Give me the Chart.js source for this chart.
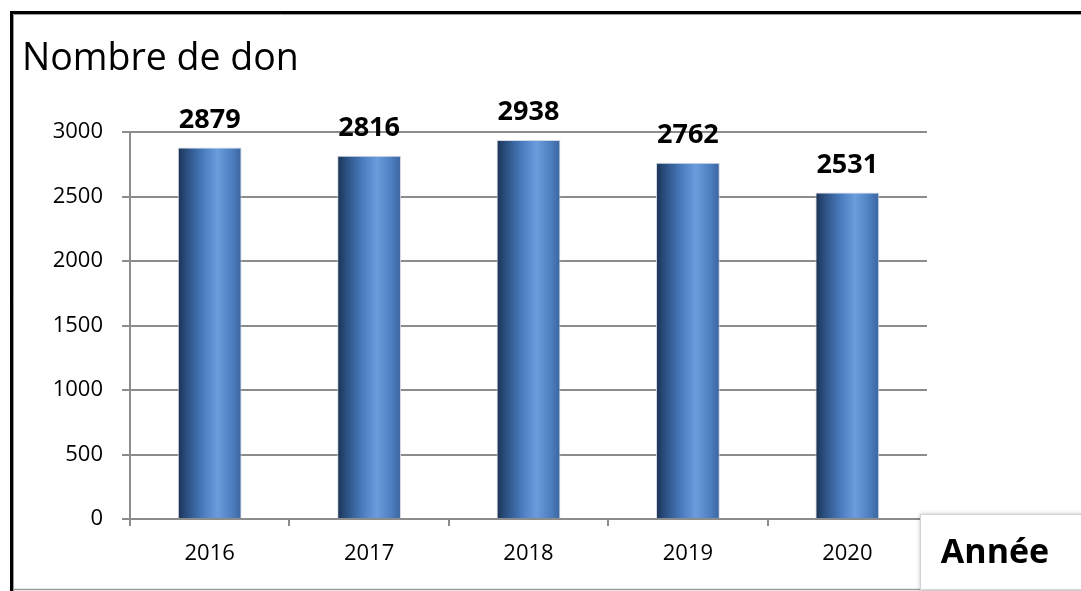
<!DOCTYPE html>
<html lang="fr">
<head>
<meta charset="utf-8">
<title>Nombre de don</title>
<script src="https://cdn.jsdelivr.net/npm/chart.js@4.4.1/dist/chart.umd.min.js"></script>
<style>
  html, body { margin: 0; padding: 0; background: #fff; }
  #wrap { position: relative; width: 1081px; height: 591px; }
</style>
</head>
<body>
<div id="wrap"><canvas id="chart" width="1081" height="591"></canvas></div>
<script>
// Donations per year
const years = ['2016', '2017', '2018', '2019', '2020'];
const dons = [2879, 2816, 2938, 2762, 2531];
const yTicks = [0, 500, 1000, 1500, 2000, 2500, 3000];
const chartTitle = 'Nombre de don';
const xAxisTitle = 'Année';

const FONT = "'Open Sans', 'DejaVu Sans', sans-serif";
const GRID = '#8c8c8c';
const BAR_PCT = 0.4;

// Horizontal "cylinder" shading, one gradient per bar
function barGradient(context) {
  const chart = context.chart;
  const xs = chart.scales.x;
  if (!chart.chartArea || !xs || context.dataIndex === undefined) return '#4a7cbf';
  const cx = xs.getPixelForValue(context.dataIndex);
  const w = (xs.width / chart.data.labels.length) * BAR_PCT;
  const g = chart.ctx.createLinearGradient(cx - w / 2, 0, cx + w / 2, 0);
  g.addColorStop(0.0, '#1b3253');
  g.addColorStop(0.15, '#2c5183');
  g.addColorStop(0.4, '#4a7cbf');
  g.addColorStop(0.62, '#6b9ddd');
  g.addColorStop(0.82, '#5183c4');
  g.addColorStop(1.0, '#3a659f');
  return g;
}

// Value labels above the bars
const valueLabels = {
  id: 'valueLabels',
  afterDatasetsDraw(chart) {
    const ctx = chart.ctx;
    const ds = chart.data.datasets[0];
    ctx.save();
    ctx.font = `bold 27px ${FONT}`;
    ctx.fillStyle = '#000';
    ctx.textAlign = 'center';
    ctx.textBaseline = 'alphabetic';
    chart.getDatasetMeta(0).data.forEach((bar, i) => {
      ctx.fillText(String(ds.data[i]), bar.x, bar.y - 20);
    });
    ctx.restore();
  }
};

// Frame, title and axis caption box
const decorations = {
  id: 'decorations',
  beforeDraw(chart) {
    const ctx = chart.ctx;
    const W = chart.width;
    ctx.save();
    ctx.fillStyle = '#fff';
    ctx.fillRect(0, 0, W, chart.height);
    // outer frame
    ctx.strokeStyle = '#000';
    ctx.lineWidth = 3;
    ctx.beginPath();
    ctx.moveTo(W + 2, 12.5);
    ctx.lineTo(11.5, 12.5);
    ctx.lineTo(11.5, 591);
    ctx.stroke();
    ctx.strokeStyle = '#9a9a9a';
    ctx.lineWidth = 1;
    ctx.beginPath();
    ctx.moveTo(W + 2, 14.5);
    ctx.lineTo(13.5, 14.5);
    ctx.lineTo(13.5, 591);
    ctx.stroke();
    ctx.lineWidth = 1.5;
    ctx.beginPath();
    ctx.moveTo(13, 589.5);
    ctx.lineTo(W + 2, 589.5);
    ctx.stroke();
    ctx.restore();
  },
  afterDraw(chart) {
    const ctx = chart.ctx;
    ctx.save();
    // chart title
    ctx.font = `37.5px ${FONT}`;
    ctx.fillStyle = '#000';
    ctx.textAlign = 'left';
    ctx.textBaseline = 'alphabetic';
    ctx.fillText(chartTitle, 22, 70);
    // caption box for the category axis
    ctx.shadowColor = 'rgba(0,0,0,0.25)';
    ctx.shadowBlur = 4;
    ctx.fillStyle = '#fff';
    ctx.fillRect(920, 514, 170, 76);
    ctx.shadowColor = 'transparent';
    ctx.strokeStyle = '#d4d4d4';
    ctx.lineWidth = 1;
    ctx.strokeRect(920.5, 514.5, 170, 75);
    ctx.font = `bold 34px ${FONT}`;
    ctx.fillStyle = '#000';
    ctx.textAlign = 'center';
    ctx.textBaseline = 'middle';
    ctx.fillText(xAxisTitle, 995, 553);
    ctx.restore();
  }
};

new Chart(document.getElementById('chart'), {
  type: 'bar',
  data: {
    labels: years,
    datasets: [{
      data: dons,
      backgroundColor: barGradient,
      borderColor: 'rgba(205,212,224,0.9)',
      borderWidth: 1,
      categoryPercentage: 1.0,
      barPercentage: BAR_PCT
    }]
  },
  options: {
    responsive: false,
    animation: false,
    layout: { padding: { top: 132, right: 154, bottom: 0, left: 0 } },
    plugins: {
      legend: { display: false },
      title: { display: false },
      tooltip: { enabled: false }
    },
    scales: {
      x: {
        offset: true,
        afterFit(scale) { scale.height = 72; },
        grid: {
          offset: true,
          drawOnChartArea: false,
          drawTicks: true,
          tickLength: 7,
          tickColor: GRID,
          lineWidth: 2
        },
        border: { color: GRID, width: 2 },
        ticks: { color: '#000', font: { family: FONT, size: 22 }, padding: 15 }
      },
      y: {
        min: 0,
        max: 3000,
        afterFit(scale) { scale.width = 130; },
        afterBuildTicks(scale) { scale.ticks = yTicks.map(v => ({ value: v })); },
        grid: {
          color: GRID,
          lineWidth: 2,
          drawTicks: true,
          tickLength: 8,
          tickColor: GRID
        },
        border: { color: GRID, width: 2 },
        ticks: {
          color: '#000',
          font: { family: FONT, size: 22 },
          padding: 19,
          callback: v => String(v)
        }
      }
    }
  },
  plugins: [decorations, valueLabels]
});
</script>
</body>
</html>
